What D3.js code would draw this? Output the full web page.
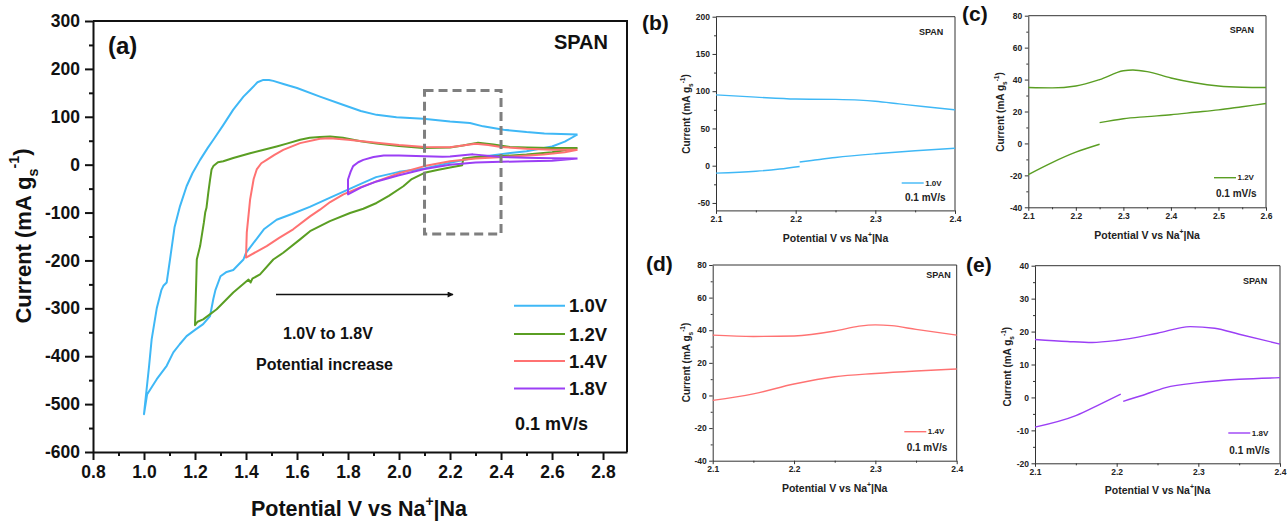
<!DOCTYPE html>
<html><head><meta charset="utf-8">
<script src="https://cdn.jsdelivr.net/npm/d3@7"></script>
<style>html,body{margin:0;padding:0;background:#fff;}svg{display:block;}</style>
</head><body>
<svg id="chart" width="1287" height="521"></svg>
<script>
// ---------- DATA ----------
const seriesLabels = ["1.0V", "1.2V", "1.4V", "1.8V"];
const seriesColors = ["#3fb8f6", "#5a9e23", "#ff7272", "#9b3ff5"];
const mainXTicks = [0.8, 1.0, 1.2, 1.4, 1.6, 1.8, 2.0, 2.2, 2.4, 2.6, 2.8];
const mainYTicks = [300, 200, 100, 0, -100, -200, -300, -400, -500, -600];

// CV loops [potential V, current mA/g] in sweep order (cathodic then anodic)
const cv10 = [[2.70,63],[2.65,48],[2.60,38],[2.50,28],[2.40,22],[2.30,15],[2.20,4],[2.10,-8],[2.00,-15],[1.91,-26],[1.85,-40],[1.80,-52],[1.73,-69],[1.65,-88],[1.58,-103],[1.52,-115],[1.47,-135],[1.40,-184],[1.39,-198],[1.35,-220],[1.324,-224],[1.30,-233],[1.28,-262],[1.272,-280],[1.259,-316],[1.232,-333],[1.20,-345],[1.167,-358],[1.14,-375],[1.115,-392],[1.089,-420],[1.05,-448],[1.012,-480],[1.0,-521],
  [1.004,-500],[1.01,-470],[1.02,-420],[1.03,-365],[1.05,-300],[1.068,-262],[1.076,-253],[1.089,-246],[1.102,-198],[1.12,-130],[1.141,-87],[1.167,-45],[1.19,-18],[1.22,10],[1.25,35],[1.272,52],[1.31,82],[1.35,115],[1.39,142],[1.416,156],[1.445,172],[1.468,177],[1.49,177],[1.507,175],[1.55,168],[1.60,160],[1.69,142],[1.78,125],[1.85,112],[1.912,104],[1.99,99],[2.095,96],[2.20,90],[2.278,87],[2.33,80],[2.41,73],[2.50,68],[2.57,65],[2.70,63]];
const cv12 = [[2.70,35],[2.65,30],[2.60,26],[2.50,21],[2.40,18],[2.30,16],[2.252,13],[2.248,-1],[2.20,-6],[2.15,-11],[2.10,-17],[2.05,-30],[2.017,-45],[1.96,-65],[1.912,-80],[1.86,-92],[1.808,-101],[1.729,-118],[1.651,-139],[1.612,-156],[1.546,-184],[1.507,-198],[1.455,-229],[1.425,-238],[1.418,-246],[1.41,-240],[1.35,-267],[1.285,-302],[1.232,-323],[1.21,-328],[1.20,-335],
  [1.203,-280],[1.207,-198],[1.22,-170],[1.235,-120],[1.24,-100],[1.245,-90],[1.252,-59],[1.259,-31],[1.265,-10],[1.272,-3],[1.29,5],[1.311,7],[1.35,14],[1.416,24],[1.47,31],[1.52,38],[1.56,44],[1.612,52],[1.65,56],[1.69,58],[1.73,59],[1.78,56],[1.85,49],[1.912,44],[2.00,39],[2.095,35],[2.20,36],[2.25,40],[2.31,46],[2.37,42],[2.435,37],[2.50,36],[2.60,35],[2.70,35]];
const cv14 = [[2.70,31],[2.65,26],[2.566,21],[2.41,16],[2.30,13],[2.20,7],[2.10,-3],[2.00,-18],[1.912,-35],[1.85,-47],[1.782,-62],[1.73,-78],[1.69,-94],[1.651,-108],[1.585,-135],[1.53,-153],[1.481,-170],[1.40,-194],
  [1.403,-142],[1.41,-105],[1.416,-73],[1.43,-30],[1.442,-10],[1.46,3],[1.481,10],[1.51,20],[1.546,31],[1.612,45],[1.69,54],[1.73,55],[1.80,52],[1.912,46],[2.00,41],[2.10,37],[2.20,36.5],[2.25,40],[2.30,43.5],[2.35,41],[2.40,37],[2.50,33],[2.60,31],[2.70,31]];
const cv18 = [[2.70,13],[2.60,8],[2.50,7],[2.40,6],[2.30,4.5],[2.20,0],[2.10,-9],[2.00,-22],[1.912,-35],[1.85,-48],[1.80,-62],
  [1.80,-31],[1.81,-15],[1.82,-3],[1.84,5],[1.86,10],[1.90,16],[1.94,19],[2.00,19],[2.10,17.5],[2.17,16.7],[2.20,17.3],[2.29,21.5],[2.40,16.2],[2.50,14.5],[2.60,13.5],[2.70,13]];
const zoomBox = [[2.1, 2.4], [-145, 155]];

// zoomed panels (b)-(e)
const bUp = [[2.10,95],[2.15,92],[2.20,89.5],[2.25,89],[2.28,88],[2.30,86.5],[2.33,83],[2.36,79.5],[2.40,75]];
const bLowA = [[2.10,-10],[2.15,-7.5],[2.18,-4.5],[2.205,-1]];
const bLowB = [[2.205,5],[2.22,7],[2.25,11],[2.30,16],[2.35,20],[2.40,23.5]];
const cUp = [[2.10,35],[2.15,34.8],[2.20,36],[2.25,40],[2.30,45.5],[2.32,46],[2.35,45],[2.40,41],[2.45,38],[2.50,36],[2.55,35.2],[2.60,35]];
const cLowA = [[2.10,-19.5],[2.15,-12],[2.20,-5.5],[2.25,-0.5]];
const cLowB = [[2.25,13],[2.30,15.5],[2.35,16.8],[2.40,18],[2.45,19.5],[2.50,21],[2.55,23],[2.60,25]];
const dUp = [[2.10,37],[2.15,36.2],[2.20,36.5],[2.25,39.5],[2.28,42.5],[2.30,43.3],[2.32,42.8],[2.35,40.5],[2.40,37]];
const dLow = [[2.10,-3],[2.15,1],[2.20,7],[2.25,11.5],[2.30,13.5],[2.35,15],[2.40,16.2]];
const eUp = [[2.10,17.6],[2.14,17],[2.17,16.7],[2.20,17.3],[2.25,19.5],[2.29,21.5],[2.32,21],[2.35,19.2],[2.40,16.2]];
const eLowA = [[2.10,-9],[2.15,-5.5],[2.18,-2],[2.205,1]];
const eLowB = [[2.208,-1.2],[2.23,0.5],[2.26,3],[2.30,4.5],[2.35,5.5],[2.40,6]];
const bYTicks = [-50, 0, 50, 100, 150, 200];
const cYTicks = [-40, -20, 0, 20, 40, 60, 80];
const dYTicks = [-40, -20, 0, 20, 40, 60, 80];
const eYTicks = [-20, -10, 0, 10, 20, 30, 40];
const bXTicks = [2.1, 2.2, 2.3, 2.4];
const cXTicks = [2.1, 2.2, 2.3, 2.4, 2.5, 2.6];

// ---------- DRAW ----------
const FONT = "Arial, 'Liberation Sans', sans-serif";
const svg = d3.select("#chart").style("font-family", FONT);

function richText(sel, parts, size) {
  let state = "n";
  parts.forEach(([t, m]) => {
    const ts = sel.append("tspan").text(t);
    let dy = 0;
    if (state === "n" && m === "sub") dy = 0.3;
    if (state === "n" && m === "sup") dy = -0.45;
    if (state === "sub" && m === "sup") dy = -0.85;
    if (state === "sub" && m === "n") dy = -0.3;
    if (state === "sup" && m === "n") dy = 0.45;
    if (state === "sup" && m === "sub") dy = 0.85;
    if (dy) ts.attr("dy", (dy * size) + "px");
    if (m !== "n") ts.attr("font-size", (size * 0.65) + "px");
    state = m;
  });
}
const yTitleParts = [["Current (mA g","n"],["s","sub"],["-1","sup"],[")","n"]];
const xTitleParts = [["Potential V vs Na","n"],["+","sup"],["|Na","n"]];

// ===== Panel (a) =====
(function () {
  const L = 93, R = 627, T = 21, B = 452;
  const x = d3.scaleLinear().domain([0.8, 2.894]).range([L, R]);
  const y = d3.scaleLinear().domain([-600, 300]).range([B, T]);
  const g = svg.append("g");

  const xMinor = d3.range(0.9, 2.85, 0.2);
  const yMinor = d3.range(-550, 300, 100);
  g.append("g").attr("transform", `translate(0,${B})`)
    .call(d3.axisBottom(x).tickValues(xMinor).tickSize(4).tickFormat(""))
    .call(a => a.select(".domain").remove())
    .selectAll("line").attr("stroke", "#111").attr("stroke-width", 2);
  g.append("g").attr("transform", `translate(${L},0)`)
    .call(d3.axisLeft(y).tickValues(yMinor).tickSize(4).tickFormat(""))
    .call(a => a.select(".domain").remove())
    .selectAll("line").attr("stroke", "#111").attr("stroke-width", 2);

  const xa = g.append("g").attr("transform", `translate(0,${B})`)
    .call(d3.axisBottom(x).tickValues(mainXTicks).tickSize(8).tickSizeOuter(0).tickPadding(6).tickFormat(d => d.toFixed(1)));
  xa.select(".domain").attr("stroke", "#111").attr("stroke-width", 2);
  xa.selectAll("line").attr("stroke", "#111").attr("stroke-width", 2);
  xa.selectAll("text").attr("font-size", "17.5px").attr("font-weight", "bold").attr("fill", "#111").attr("font-family", FONT);

  const ya = g.append("g").attr("transform", `translate(${L},0)`)
    .call(d3.axisLeft(y).tickValues(mainYTicks).tickSize(8).tickSizeOuter(0).tickPadding(5).tickFormat(d => String(d)));
  ya.select(".domain").attr("stroke", "#111").attr("stroke-width", 2);
  ya.selectAll("line").attr("stroke", "#111").attr("stroke-width", 2);
  ya.selectAll("text").attr("font-size", "17.5px").attr("font-weight", "bold").attr("fill", "#111").attr("font-family", FONT);

  g.append("path").attr("d", `M${L},${T}H${R}V${B}`).attr("fill", "none").attr("stroke", "#111").attr("stroke-width", 2);

  const line = d3.line().x(d => x(d[0])).y(d => y(d[1])).curve(d3.curveLinear);
  [cv10, cv12, cv14, cv18].forEach((s, i) => {
    g.append("path").datum(s).attr("d", line).attr("fill", "none")
      .attr("stroke", seriesColors[i]).attr("stroke-width", 2).attr("stroke-linejoin", "round");
  });

  g.append("rect").attr("x", x(zoomBox[0][0])).attr("y", y(zoomBox[1][1]))
    .attr("width", x(zoomBox[0][1]) - x(zoomBox[0][0])).attr("height", y(zoomBox[1][0]) - y(zoomBox[1][1]))
    .attr("fill", "none").attr("stroke", "#7f7f7f").attr("stroke-width", 3).attr("stroke-dasharray", "9,5");

  const defs = svg.append("defs");
  defs.append("marker").attr("id", "arr").attr("viewBox", "0 0 10 10").attr("refX", 9).attr("refY", 5)
    .attr("markerWidth", 9).attr("markerHeight", 6).attr("markerUnits", "userSpaceOnUse").attr("orient", "auto")
    .append("path").attr("d", "M0,0L10,5L0,10Z").attr("fill", "#111");
  g.append("line").attr("x1", 276).attr("y1", 294.5).attr("x2", 453).attr("y2", 294.5)
    .attr("stroke", "#111").attr("stroke-width", 1.5).attr("marker-end", "url(#arr)");

  g.append("text").attr("x", 283).attr("y", 338.5).attr("font-size", "16px").attr("font-weight", "bold").attr("fill", "#111").text("1.0V to 1.8V");
  g.append("text").attr("x", 256).attr("y", 370).attr("font-size", "16px").attr("font-weight", "bold").attr("fill", "#111").text("Potential increase");

  const lgY = [312.3, 340.5, 367.5, 395];
  seriesLabels.forEach((lab, i) => {
    g.append("line").attr("x1", 514).attr("x2", 565).attr("y1", lgY[i] - 6.5).attr("y2", lgY[i] - 6.5)
      .attr("stroke", seriesColors[i]).attr("stroke-width", 2);
    g.append("text").attr("x", 569).attr("y", lgY[i]).attr("font-size", "18.5px").attr("font-weight", "bold").attr("fill", "#111").text(lab);
  });
  g.append("text").attr("x", 515).attr("y", 430).attr("font-size", "18px").attr("font-weight", "bold").attr("fill", "#111").text("0.1 mV/s");

  g.append("text").attr("x", 108).attr("y", 54).attr("font-size", "24px").attr("font-weight", "bold").attr("fill", "#111").text("(a)");
  g.append("text").attr("x", 608).attr("y", 49).attr("text-anchor", "end").attr("font-size", "20px").attr("font-weight", "bold").attr("fill", "#111").text("SPAN");

  const yt = g.append("text").attr("transform", `translate(31,236) rotate(-90)`).attr("text-anchor", "middle")
    .attr("font-size", "22px").attr("font-weight", "bold").attr("fill", "#111");
  richText(yt, yTitleParts, 22);
  const xt = g.append("text").attr("x", 359).attr("y", 516).attr("text-anchor", "middle")
    .attr("font-size", "21.5px").attr("font-weight", "bold").attr("fill", "#111");
  richText(xt, xTitleParts, 21.5);
})();

// ===== Small panels =====
function small(cfg) {
  const [L, R] = cfg.xr, [B, T] = cfg.yr;
  const x = d3.scaleLinear().domain(cfg.xd).range(cfg.xr);
  const y = d3.scaleLinear().domain(cfg.yd).range(cfg.yr);
  const g = svg.append("g");
  const stroke = "#333";

  g.append("g").attr("transform", `translate(0,${B})`)
    .call(d3.axisBottom(x).tickValues(cfg.xMinor).tickSize(2).tickFormat(""))
    .call(a => a.select(".domain").remove())
    .selectAll("line").attr("stroke", stroke);
  g.append("g").attr("transform", `translate(${L},0)`)
    .call(d3.axisLeft(y).tickValues(cfg.yMinor).tickSize(2).tickFormat(""))
    .call(a => a.select(".domain").remove())
    .selectAll("line").attr("stroke", stroke);

  const xa = g.append("g").attr("transform", `translate(0,${B})`)
    .call(d3.axisBottom(x).tickValues(cfg.xTicks).tickSize(3.5).tickSizeOuter(0).tickPadding(2).tickFormat(d => d.toFixed(1)));
  xa.selectAll("line, .domain").attr("stroke", stroke);
  xa.selectAll("text").attr("font-size", "8.5px").attr("font-weight", "bold").attr("fill", "#222").attr("font-family", FONT);
  const ya = g.append("g").attr("transform", `translate(${L},0)`)
    .call(d3.axisLeft(y).tickValues(cfg.yTicks).tickSize(3.5).tickSizeOuter(0).tickPadding(2.5).tickFormat(d => String(d)));
  ya.selectAll("line, .domain").attr("stroke", stroke);
  ya.selectAll("text").attr("font-size", "8.5px").attr("font-weight", "bold").attr("fill", "#222").attr("font-family", FONT);
  g.append("path").attr("d", `M${L},${T}H${R}V${B}`).attr("fill", "none").attr("stroke", stroke);

  const line = d3.line().x(d => x(d[0])).y(d => y(d[1])).curve(d3.curveMonotoneX);
  cfg.segs.forEach(s => {
    g.append("path").datum(s).attr("d", line).attr("fill", "none").attr("stroke", cfg.color).attr("stroke-width", 1.4);
  });

  g.append("line").attr("x1", cfg.lg[0]).attr("x2", cfg.lg[0] + 22).attr("y1", cfg.lg[1]).attr("y2", cfg.lg[1])
    .attr("stroke", cfg.color).attr("stroke-width", 1.4);
  g.append("text").attr("x", cfg.lg[0] + 23.5).attr("y", cfg.lg[1] + 2.7).attr("font-size", "8px").attr("font-weight", "bold").attr("fill", "#222").text(cfg.label);
  g.append("text").attr("x", cfg.rate[0]).attr("y", cfg.rate[1]).attr("font-size", "10px").attr("font-weight", "bold").attr("fill", "#222").text("0.1 mV/s");
  g.append("text").attr("x", cfg.span[0]).attr("y", cfg.span[1]).attr("text-anchor", "end").attr("font-size", "9px").attr("font-weight", "bold").attr("fill", "#222").text("SPAN");
  g.append("text").attr("x", cfg.tag[0]).attr("y", cfg.tag[1]).attr("font-size", "21px").attr("font-weight", "bold").attr("fill", "#111").text(cfg.tagText);

  const yt = g.append("text").attr("transform", `translate(${cfg.yTitle[0]},${cfg.yTitle[1]}) rotate(-90)`).attr("text-anchor", "middle")
    .attr("font-size", "10px").attr("font-weight", "bold").attr("fill", "#222");
  richText(yt, yTitleParts, 10);
  const xt = g.append("text").attr("x", (L + R) / 2).attr("y", cfg.xTitleY).attr("text-anchor", "middle")
    .attr("font-size", "10.5px").attr("font-weight", "bold").attr("fill", "#222");
  richText(xt, xTitleParts, 10.5);
}

small({ xd: [2.1, 2.4], xr: [716, 955], yd: [-60, 200], yr: [210.4, 16.7],
  xTicks: bXTicks, xMinor: [2.15, 2.25, 2.35], yTicks: bYTicks, yMinor: [-25, 25, 75, 125, 175],
  segs: [bUp, bLowA, bLowB], color: seriesColors[0], label: seriesLabels[0],
  lg: [901.7, 183], rate: [905, 200.7], span: [943.3, 34.5], tag: [642, 29.5], tagText: "(b)",
  yTitle: [690, 114], xTitleY: 241.5 });
small({ xd: [2.1, 2.6], xr: [1028.3, 1266], yd: [-40, 80], yr: [207.3, 15.7],
  xTicks: cXTicks, xMinor: [2.15, 2.25, 2.35, 2.45, 2.55], yTicks: cYTicks, yMinor: [-30, -10, 10, 30, 50, 70],
  segs: [cUp, cLowA, cLowB], color: seriesColors[1], label: seriesLabels[1],
  lg: [1214, 177.7], rate: [1216, 197.3], span: [1254, 32.5], tag: [962, 20.5], tagText: "(c)",
  yTitle: [1004, 112], xTitleY: 239 });
small({ xd: [2.1, 2.4], xr: [712.7, 956.7], yd: [-40, 80], yr: [460.7, 265],
  xTicks: bXTicks, xMinor: [2.15, 2.25, 2.35], yTicks: dYTicks, yMinor: [-30, -10, 10, 30, 50, 70],
  segs: [dUp, dLow], color: seriesColors[2], label: seriesLabels[2],
  lg: [904.3, 431.7], rate: [906.7, 450.7], span: [950.7, 278], tag: [646, 271], tagText: "(d)",
  yTitle: [690, 362.5], xTitleY: 492 });
small({ xd: [2.1, 2.4], xr: [1035, 1280], yd: [-20, 40], yr: [463.3, 265.7],
  xTicks: bXTicks, xMinor: [2.15, 2.25, 2.35], yTicks: eYTicks, yMinor: [-15, -5, 5, 15, 25, 35],
  segs: [eUp, eLowA, eLowB], color: seriesColors[3], label: seriesLabels[3],
  lg: [1228.3, 433], rate: [1229.3, 454], span: [1267.3, 284], tag: [966, 272], tagText: "(e)",
  yTitle: [1011, 366.7], xTitleY: 494 });
</script>
</body></html>
